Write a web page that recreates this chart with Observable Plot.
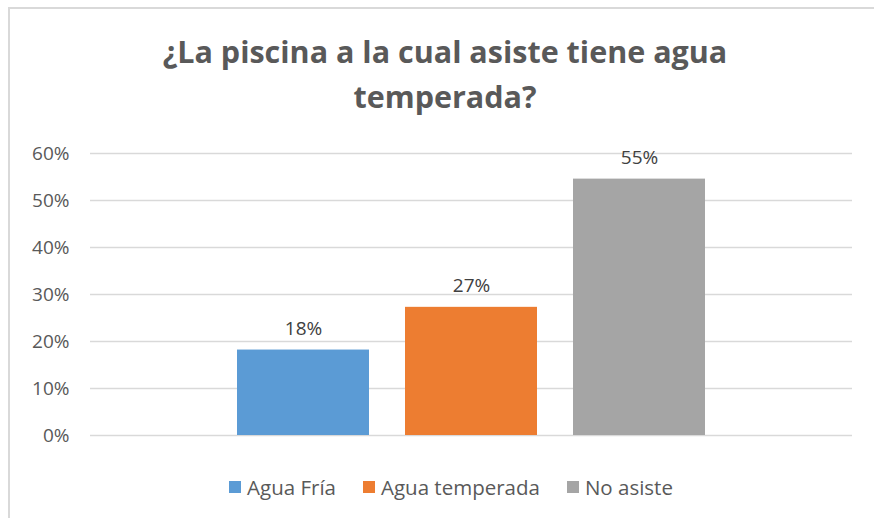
<!DOCTYPE html>
<html>
<head>
<meta charset="utf-8">
<script src="https://cdn.jsdelivr.net/npm/d3@7"></script>
<script src="https://cdn.jsdelivr.net/npm/@observablehq/plot@0.6"></script>
<style>
  html, body { margin: 0; padding: 0; background: #fff; }
  #wrap { position: relative; width: 874px; height: 518px; overflow: hidden; background: #fff; }
  #frame { position: absolute; left: 8px; top: 7px; width: 1000px; height: 1000px; border: 2px solid #d9d9d9; box-sizing: border-box; }
  #title { position: absolute; left: 0; top: 29px; width: 890px; text-align: center; font-family: "Open Sans", sans-serif; font-weight: bold; font-size: 30.5px; line-height: 45px; color: #595959; }
  #chart { position: absolute; left: 0; top: 130px; }
  #legend { position: absolute; left: 0; top: 473px; width: 874px; display: flex; justify-content: center; gap: 27px; font-family: "Open Sans", sans-serif; font-size: 20.5px; color: #595959; padding-left: 28px; box-sizing: border-box; }
  #legend .item { display: flex; align-items: center; gap: 6px; }
  #legend .sw { width: 12px; height: 12px; display: inline-block; }
</style>
</head>
<body>
<div id="wrap">
  <div id="frame"></div>
  <div id="title">¿La piscina a la cual asiste tiene agua<br>temperada?</div>
  <div id="chart"></div>
  <div id="legend"></div>
</div>
<script>
const categories = ["Agua Fría", "Agua temperada", "No asiste"];
const values = [0.1818, 0.2727, 0.5455];
const colors = ["#5B9BD5", "#ED7D31", "#A5A5A5"];
const yTicks = [0, 0.1, 0.2, 0.3, 0.4, 0.5, 0.6];

const data = categories.map((c, i) => ({name: c, value: values[i]}));
const pct = d3.format(".0%");

const chart = Plot.plot({
  width: 874,
  height: 320,
  marginLeft: 90,
  marginRight: 22,
  marginTop: 23,
  marginBottom: 15,
  style: {fontFamily: "'Open Sans', sans-serif", fontSize: "19px", color: "#595959", background: "transparent"},
  x: {domain: categories, paddingInner: 0.213, paddingOuter: 0.861, axis: null},
  y: {domain: [0, 0.6], ticks: yTicks, tickFormat: pct, tickSize: 0, tickPadding: 21, label: null},
  color: {domain: categories, range: colors},
  marks: [
    Plot.ruleY(yTicks, {stroke: "#d9d9d9", strokeWidth: 1.5}),
    Plot.barY(data, {x: "name", y: "value", fill: "name"}),
    Plot.text(data, {x: "name", y: "value", text: d => pct(d.value), dy: -15, lineAnchor: "bottom", fill: "#404040", fontSize: 19})
  ]
});
document.getElementById("chart").appendChild(chart);

const legend = document.getElementById("legend");
categories.forEach((c, i) => {
  const item = document.createElement("div");
  item.className = "item";
  const sw = document.createElement("span");
  sw.className = "sw";
  sw.style.background = colors[i];
  const t = document.createElement("span");
  t.textContent = c;
  item.appendChild(sw);
  item.appendChild(t);
  legend.appendChild(item);
});
</script>
</body>
</html>
